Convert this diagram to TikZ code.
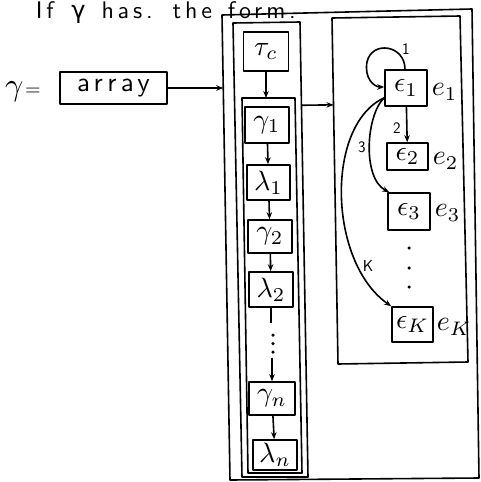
\documentclass[tikz,border=0pt]{standalone}
\usepackage{fontspec}
\usepackage{graphicx}
\usetikzlibrary{arrows.meta,calc}
\newfontfamily\handfont{lmsans10-regular.otf}[LetterSpace=16]
\newfontfamily\greekfont{DejaVu Sans}[LetterSpace=16]
\newcommand\symb[1]{\scalebox{2.8}{$#1$}}
\begin{document}
\begin{tikzpicture}[x=1pt,y=-1pt, line width=1.6pt, line join=round,
  box/.style={draw, line width=1.6pt, inner sep=0pt},
  arr/.style={-{Stealth[length=7pt,width=5.5pt]}},
  lab/.style={inner sep=0pt, anchor=west},
  num/.style={font=\fontsize{16}{18}\selectfont\sffamily, inner sep=0pt},
  hand/.style={font=\fontsize{27}{30}\handfont},
  dot/.style={circle, fill, inner sep=0pt, minimum size=3.5pt}]
\useasboundingbox (0,0) rectangle (480,482);
% title
\node[anchor=base west, inner sep=0pt, font=\fontsize{24}{28}\handfont] (title) at (35,18) {If\hspace{6pt} {\greekfont γ}\hspace{4pt} has.\hspace{4pt} the\hspace{4pt} form.};
% gamma = array
\node[inner sep=0pt] (geq) at (23,92) {\scalebox{3.2}{$\gamma$}\,\scalebox{2}{$=$}};
\node[box, minimum width=107pt, minimum height=32pt, hand] (arr) at (113.5,88) {array\hspace{10pt}};
% containers
\coordinate (otl) at (222,15); \coordinate (otr) at (472,9);
\coordinate (obr) at (479,478); \coordinate (obl) at (230,480);
\draw (otl) -- (otr) -- (obr) -- (obl) -- cycle;
\coordinate (ctl) at (233,23); \coordinate (ctr) at (300,22);
\coordinate (cbr) at (308,477); \coordinate (cbl) at (242,477);
\draw (ctl) -- (ctr) -- (cbr) -- (cbl) -- cycle;
\coordinate (itl) at (242,98); \coordinate (itr) at (295,98);
\coordinate (ibr) at (302,473); \coordinate (ibl) at (248,473);
\draw (itl) -- (itr) -- (ibr) -- (ibl) -- cycle;
\coordinate (rtl) at (332,18); \coordinate (rtr) at (460,16);
\coordinate (rbr) at (468,362); \coordinate (rbl) at (338,364);
\draw (rtl) -- (rtr) -- (rbr) -- (rbl) -- cycle;
% connectors between containers
\path (otl) -- (obl) coordinate[pos=0.157] (ol);
\draw[arr] (arr.east) -- (ol);
\path (ctr) -- (cbr) coordinate[pos=0.183] (cr);
\path (rtl) -- (rbl) coordinate[pos=0.251] (rl);
\draw[arr] (cr) -- (rl);
% column
\node[box, minimum width=45pt, minimum height=39pt] (tc) at (266,51.5) {\symb{\tau_c}};
\node[box, minimum width=44pt, minimum height=36pt] (g1) at (267,125) {\symb{\gamma_1}};
\node[box, minimum width=43pt, minimum height=35pt] (l1) at (268.5,182.5) {\symb{\lambda_1}};
\node[box, minimum width=44pt, minimum height=33pt] (g2) at (270,236.5) {\symb{\gamma_2}};
\node[box, minimum width=44pt, minimum height=35pt] (l2) at (271,289.5) {\symb{\lambda_2}};
\node[box, minimum width=46pt, minimum height=33pt] (gn) at (272,398.5) {\symb{\gamma_n}};
\node[box, minimum width=44pt, minimum height=30pt] (ln) at (275,455) {\symb{\lambda_n}};
\draw[arr] (tc.south) -- (tc.south |- itl);
\draw[arr] (g1) -- (l1);
\draw[arr] (l1) -- (g2);
\draw[arr] (g2) -- (l2);
\draw (l2.south) -- ++(0,15);
\node[dot] (cd1) at (273,335) {};
\node[dot] (cd2) at (273,343.5) {};
\node[dot] (cd3) at (273,352) {};
\coordinate (gnin) at (272,358);
\draw[arr] (gnin) -- (gn.north);
\draw[arr] (gn) -- (ln);
% right list
\node[box, minimum width=42pt, minimum height=36pt] (e1) at (406,88) {\symb{\epsilon_1}};
\node[box, minimum width=41pt, minimum height=27pt] (e2) at (407.5,156.5) {\symb{\epsilon_2}};
\node[box, minimum width=42pt, minimum height=37pt] (e3) at (409,211.5) {\symb{\epsilon_3}};
\node[box, minimum width=41pt, minimum height=35pt] (ek) at (412.5,324.5) {\symb{\epsilon_K}};
\node[lab] (e1l) at (431,92) {\symb{e_1}};
\node[lab] (e2l) at (432,161) {\symb{e_2}};
\node[lab] (e3l) at (434,213) {\symb{e_3}};
\node[lab] (ekl) at (436,327) {\symb{e_K}};
\draw[arr] ([xshift=-1pt]e1.north) .. controls (405,45) and (372,40) .. (367,62) .. controls (364,78) and (374,87) .. ([yshift=1pt]e1.west);
\node[num] (n1) at (406,49) {1};
\draw[arr] (e1) -- (e2);
\node[num] (n2) at (397,128) {2};
\draw[arr] ([yshift=9pt]e1.south west) .. controls (366,115) and (362,178) .. ([xshift=2pt]e3.north west);
\node[num] (n3) at (362,147) {3};
\draw[arr] ([yshift=9pt]e1.south west) .. controls (325,125) and (328,262) .. (ek.north west);
\node[num] (nk) at (368,266) {K};
\node[dot] (rd1) at (409,248) {};
\node[dot] (rd2) at (409,268) {};
\node[dot] (rd3) at (409,287) {};
\end{tikzpicture}
\end{document}
